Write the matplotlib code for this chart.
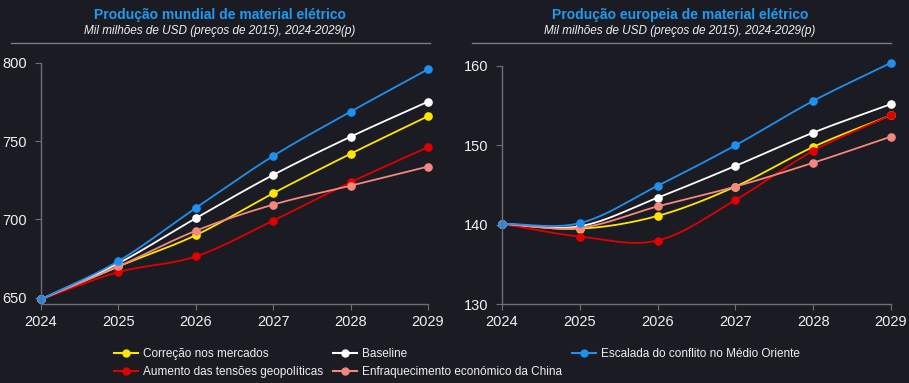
import numpy as np
import matplotlib
matplotlib.use("Agg")
import matplotlib.pyplot as plt
from matplotlib.lines import Line2D

plt.rcParams["font.family"] = ["Liberation Sans", "DejaVu Sans"]

years = [2024, 2025, 2026, 2027, 2028, 2029]

scenarios = [
    "Correção nos mercados",
    "Aumento das tensões geopolíticas",
    "Baseline",
    "Enfraquecimento económico da China",
    "Escalada do conflito no Médio Oriente",
]
colors = ["#FFE500", "#E00000", "#FFFFFF", "#F4877E", "#1E90F0"]

world_correcao = [649, 670, 690, 716.8, 742, 766]
world_tensoes = [649, 666.4, 676.4, 699.3, 723.8, 746.2]
world_baseline = [649, 672, 700.8, 728.5, 752.9, 775.3]
world_china = [649, 670, 692.8, 709.5, 721.6, 733.8]
world_conflito = [649, 673.4, 707.4, 740.6, 768.9, 796]

eu_correcao = [140.1, 139.5, 141.1, 144.8, 149.8, 153.8]
eu_tensoes = [140.1, 138.5, 138.0, 143.1, 149.3, 153.8]
eu_baseline = [140.1, 139.8, 143.4, 147.4, 151.6, 155.2]
eu_china = [140.1, 139.6, 142.3, 144.8, 147.8, 151.1]
eu_conflito = [140.1, 140.2, 144.9, 150.0, 155.6, 160.4]

world = [world_correcao, world_tensoes, world_baseline, world_china, world_conflito]
europe = [eu_correcao, eu_tensoes, eu_baseline, eu_china, eu_conflito]

BG = "#1B1B23"
TXT = "#F0F0F0"
AXC = "#6E6E78"
BLUE_T = "#1E9BF0"


def smooth(x, y, n=30):
    # cubic hermite through points (cardinal spline) for the curved look
    x = np.asarray(x, float)
    y = np.asarray(y, float)
    m = np.zeros_like(y)
    m[1:-1] = (y[2:] - y[:-2]) / (x[2:] - x[:-2])
    m[0] = (y[1] - y[0]) / (x[1] - x[0])
    m[-1] = (y[-1] - y[-2]) / (x[-1] - x[-2])
    xs, ys = [], []
    for i in range(len(x) - 1):
        h = x[i + 1] - x[i]
        t = np.linspace(0, 1, n, endpoint=(i == len(x) - 2))
        h00 = 2 * t**3 - 3 * t**2 + 1
        h10 = t**3 - 2 * t**2 + t
        h01 = -2 * t**3 + 3 * t**2
        h11 = t**3 - t**2
        xs.append(x[i] + t * h)
        ys.append(h00 * y[i] + h10 * h * m[i] + h01 * y[i + 1] + h11 * h * m[i + 1])
    return np.concatenate(xs), np.concatenate(ys)


def style_axis(ax, ylim, yticks):
    ax.set_facecolor(BG)
    ax.set_xlim(years[0], years[-1])
    ax.set_ylim(*ylim)
    ax.set_xticks(years)
    ax.set_yticks(yticks)
    ax.tick_params(labelsize=10.5, length=4, width=0.8)
    ax.tick_params(axis="x", colors=AXC, labelcolor=TXT, pad=4)
    ax.tick_params(axis="y", colors=AXC, labelcolor=TXT, pad=6)
    for side in ["top", "right"]:
        ax.spines[side].set_visible(False)
    for side in ["left", "bottom"]:
        ax.spines[side].set_color(AXC)
        ax.spines[side].set_linewidth(1)


def draw_series(ax, data):
    for vals, c in zip(data, colors):
        xs, ys = smooth(years, vals)
        ax.plot(xs, ys, color=c, lw=1.3, clip_on=False)
        ax.plot(years, vals, "o", color=c, ms=5.2, clip_on=False)


fig = plt.figure(figsize=(9.09, 3.83), dpi=100, facecolor=BG)

ax1 = fig.add_axes([41 / 909, 79 / 383, 387 / 909, 241 / 383])
style_axis(ax1, (646, 800), [650, 700, 750, 800])
draw_series(ax1, world)

ax2 = fig.add_axes([502 / 909, 79 / 383, 389 / 909, 238 / 383])
style_axis(ax2, (130, 160), [130, 140, 150, 160])
draw_series(ax2, europe)

titles = [
    ("Produção mundial de material elétrico", 220 / 909, 11 / 909, 430 / 909),
    ("Produção europeia de material elétrico", 680 / 909, 472 / 909, 891 / 909),
]
for title, cx, x0, x1 in titles:
    fig.text(cx, 1 - 15 / 383, title, color=BLUE_T, fontsize=10,
             fontweight="bold", ha="center", va="center")
    fig.text(cx, 1 - 31 / 383, "Mil milhões de USD (preços de 2015), 2024-2029(p)",
             color=TXT, fontsize=8.5, style="italic", ha="center", va="center")
    fig.add_artist(Line2D([x0, x1], [1 - 43 / 383, 1 - 43 / 383],
                          color="#7A7A84", lw=1))

handles = [Line2D([], [], color=c, marker="o", ms=5, lw=1.5) for c in colors]
leg = fig.legend(handles, scenarios, ncol=3, loc="center left",
                 bbox_to_anchor=(114 / 909, 1 - 363 / 383),
                 frameon=False, fontsize=8.5, handlelength=2.0,
                 handletextpad=0.45, columnspacing=0.85, labelspacing=0.45,
                 borderaxespad=0, borderpad=0)
for t in leg.get_texts():
    t.set_color(TXT)

fig.savefig("out.png", dpi=100, facecolor=BG)
